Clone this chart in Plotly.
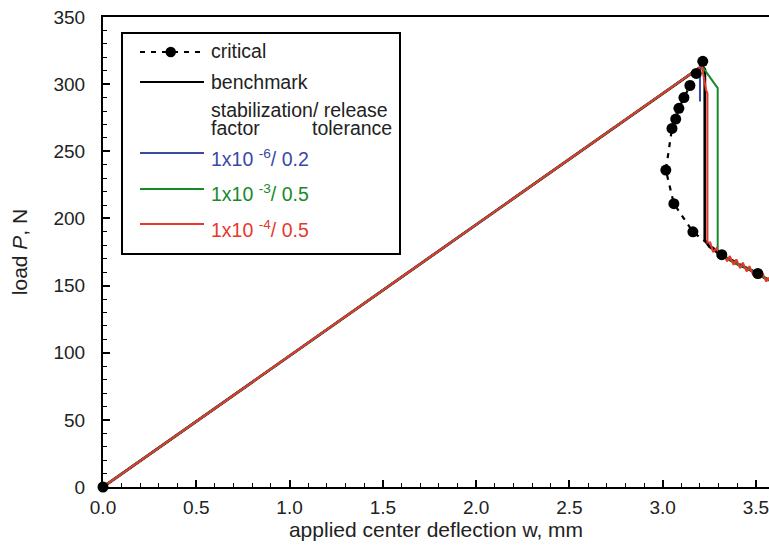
import plotly.graph_objects as go

# ---------------- data ----------------
crit_x = [0.0, 3.215, 3.18, 3.146, 3.114, 3.087, 3.07, 3.05, 3.017, 3.06, 3.162, 3.317, 3.51]
crit_y = [0, 317, 308, 299, 290, 282, 274, 267, 236, 211, 190, 173, 159]

bench_x = [0.0, 3.21, 3.226, 3.226, 3.25, 3.30, 3.35, 3.40, 3.45, 3.50, 3.57]
bench_y = [0, 313.5, 311, 184, 179, 174, 170, 166, 163, 159, 154]

blue_x = [0.0, 3.21, 3.20, 3.20]
blue_y = [0, 313.5, 310, 287]

green_x = [0.0, 3.21, 3.295, 3.295, 3.35, 3.40, 3.45, 3.50, 3.57]
green_y = [0, 313.5, 297, 176, 170, 166, 163, 159, 154]

red_x = [0.0, 3.21, 3.232, 3.24, 3.24, 3.255, 3.27, 3.29, 3.31, 3.325, 3.345, 3.36, 3.38,
         3.395, 3.415, 3.43, 3.45, 3.465, 3.485, 3.50, 3.52, 3.535, 3.555, 3.57]
red_y = [0, 313.5, 296, 293, 182, 182, 175, 178, 171, 175, 168, 172, 165.5,
         169.5, 163, 167, 160.5, 164.5, 158, 162, 155.5, 159.5, 153, 156]

x_range = [0, 3.57]
y_range = [0, 350]

legend_labels = ["critical", "benchmark", "stabilization/ release", "factor", "tolerance",
                 "1x10 <sup>-6</sup>/ 0.2", "1x10 <sup>-3</sup>/ 0.5", "1x10 <sup>-4</sup>/ 0.5"]

BLUE = "#3a48a8"
GREEN = "#168a2a"
RED = "#e5392c"
FONT = "Liberation Sans, Arial, Helvetica, sans-serif"

fig = go.Figure()
# dashed critical path (starts at the limit point; linear part coincides with the solid lines)
fig.add_trace(go.Scatter(x=crit_x[1:], y=crit_y[1:], mode="lines",
                         line=dict(color="black", width=2.2, dash="5px,6px")))
fig.add_trace(go.Scatter(x=bench_x, y=bench_y, mode="lines",
                         line=dict(color="black", width=2.8)))
fig.add_trace(go.Scatter(x=blue_x, y=blue_y, mode="lines",
                         line=dict(color=BLUE, width=2)))
fig.add_trace(go.Scatter(x=green_x, y=green_y, mode="lines",
                         line=dict(color=GREEN, width=2)))
fig.add_trace(go.Scatter(x=red_x, y=red_y, mode="lines",
                         line=dict(color=RED, width=2)))
fig.add_trace(go.Scatter(x=crit_x, y=crit_y, mode="markers", cliponaxis=False,
                         marker=dict(color="black", size=11)))

# ---------- manual legend (paper coords from pixel positions) ----------
L, T, W, H = 103, 17, 666, 470
def px(x):
    return (x - L) / W
def py(y):
    return (T + H - y) / H

shapes = []
annotations = []
shapes.append(dict(type="rect", xref="paper", yref="paper",
                   x0=px(122), x1=px(400), y0=py(33), y1=py(254),
                   line=dict(color="black", width=2), fillcolor="white", layer="above"))
# critical sample
shapes.append(dict(type="line", xref="paper", yref="paper", x0=px(140), x1=px(204),
                   y0=py(52), y1=py(52), line=dict(color="black", width=2.2, dash="5px,6px"),
                   layer="above"))
shapes.append(dict(type="circle", xref="paper", yref="paper", x0=px(165.5), x1=px(176),
                   y0=py(46.8), y1=py(57.2), fillcolor="black", line=dict(color="black", width=0),
                   layer="above"))
# benchmark sample
shapes.append(dict(type="line", xref="paper", yref="paper", x0=px(140), x1=px(204),
                   y0=py(82), y1=py(82), line=dict(color="black", width=2.2), layer="above"))
for col, yy in [(BLUE, 153), (GREEN, 189), (RED, 224)]:
    shapes.append(dict(type="line", xref="paper", yref="paper", x0=px(140), x1=px(204),
                       y0=py(yy), y1=py(yy), line=dict(color=col, width=2.2), layer="above"))

def ann(text, x, y, color="#222", anchor="left"):
    annotations.append(dict(text=text, xref="paper", yref="paper", x=px(x), y=py(y),
                            xanchor=anchor, yanchor="middle", showarrow=False,
                            font=dict(family=FONT, size=19.5, color=color)))

ann(legend_labels[0], 209, 51)
ann(legend_labels[1], 209, 82)
ann(legend_labels[2], 209, 110)
ann(legend_labels[3], 209, 128)
ann(legend_labels[4], 394, 128, anchor="right")
ann(legend_labels[5], 209, 158, BLUE)
ann(legend_labels[6], 209, 193, GREEN)
ann(legend_labels[7], 209, 229, RED)

axis_common = dict(showline=True, linecolor="black", linewidth=2, ticks="inside",
                   tickcolor="black", tickwidth=1.5, ticklen=7, showgrid=False,
                   zeroline=False, ticklabeloverflow="allow",
                   tickfont=dict(family=FONT, size=19, color="#222"))

fig.update_layout(
    width=769, height=548,
    margin=dict(l=L, r=769 - L - W, t=T, b=548 - T - H, autoexpand=False),
    paper_bgcolor="white", plot_bgcolor="white",
    showlegend=False,
    shapes=shapes, annotations=annotations,
    font=dict(family=FONT, color="#222"),
    xaxis=dict(range=x_range, dtick=0.5, tickformat=".1f", mirror=True,
               minor=dict(dtick=0.1, ticks="inside", ticklen=4, tickcolor="black", tickwidth=1.2),
               ticklabelstandoff=2,
               title=dict(text="applied center deflection w, mm",
                          font=dict(family=FONT, size=21, color="#222"), standoff=6),
               **axis_common),
    yaxis=dict(range=y_range, dtick=50,
               minor=dict(dtick=10, ticks="inside", ticklen=4, tickcolor="black", tickwidth=1.2),
               ticklabelstandoff=12,
               title=dict(text="load <i>P</i>, N",
                          font=dict(family=FONT, size=21, color="#222"), standoff=20),
               **axis_common),
)

fig.write_html("out.html")
